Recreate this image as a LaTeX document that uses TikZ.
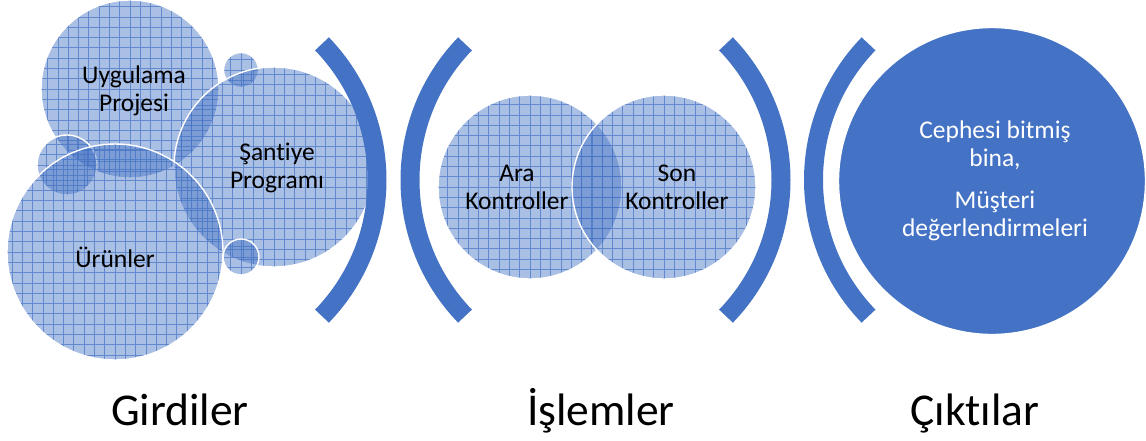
\documentclass[tikz,border=0pt]{standalone}
\usepackage{fontspec}
\setmainfont{Carlito}[Ligatures=NoCommon]
\definecolor{accent}{HTML}{4472C4}
\begin{document}
\begin{tikzpicture}[x=1pt,y=-1pt,
  gridline/.style={draw=accent, draw opacity=0.7, line width=0.7pt},
  bubble/.style={circle, inner sep=0pt, minimum size=#1,
    fill=accent, fill opacity=0.45, draw=white, line width=1.4pt,
    path picture={\draw[gridline, step=10.3pt]
      (path picture bounding box.south west) grid (path picture bounding box.north east);}},
  solidbubble/.style={circle, inner sep=0pt, minimum size=#1, fill=accent, draw=white, line width=1.4pt},
  bubbletext/.style={align=center, text=black, font=\fontsize{25.5}{28}\selectfont},
  outtext/.style={align=center, text=white, font=\fontsize{25.5}{28}\selectfont},
  stagetext/.style={anchor=base, text=black, font=\fontsize{45.5}{50}\selectfont},
  bracket/.style={draw=accent, line width=19pt, line cap=butt}
]
\useasboundingbox[fill=white] (0,0) rectangle (1146,440);

% inputs: overlapping bubbles
\node[bubble=178] (uyg) at (130,89) {};
\node[bubble=35] (dotA) at (241,70) {};
\node[bubble=200] (san) at (274,167) {};
\node[bubble=36] (dotB) at (241,257) {};
\node[bubble=60] (dotC) at (67,165) {};
\node[bubble=216] (urn) at (115,252) {};

\node[bubbletext] (tuyg) at (134,91) {Uygulama\\Projesi};
\node[bubbletext] (tsan) at (277,168) {Şantiye\\Programı};
\node[bubbletext] (turn) at (115,257) {Ürünler};

% process: two overlapping bubbles
\node[bubble=184] (ara) at (530,187) {};
\node[bubble=184] (son) at (664,187) {};
\node[bubbletext] (tara) at (517,187) {Ara\\Kontroller};
\node[bubbletext] (tson) at (677,187) {Son\\Kontroller};

% output bubble
\node[solidbubble=307] (out) at (992,181) {};
\node[outtext] (tout) at (995,181) {Cephesi bitmiş\\bina,\\[14pt]Müşteri\\değerlendirmeleri};

% brackets
\draw[bracket] (181,180) ++(-44:196) arc[start angle=-44, end angle=44, radius=196];
\draw[bracket] (606,180) ++(136:196) arc[start angle=136, end angle=224, radius=196];
\draw[bracket] (585,180) ++(-44:196) arc[start angle=-44, end angle=44, radius=196];
\draw[bracket] (1009.5,180) ++(136:196) arc[start angle=136, end angle=224, radius=196];

% stage captions
\node[stagetext] (cin) at (180,425) {Girdiler};
\node[stagetext] (cproc) at (601,425) {İşlemler};
\node[stagetext] (cout) at (975,425) {Çıktılar};
\end{tikzpicture}
\end{document}
